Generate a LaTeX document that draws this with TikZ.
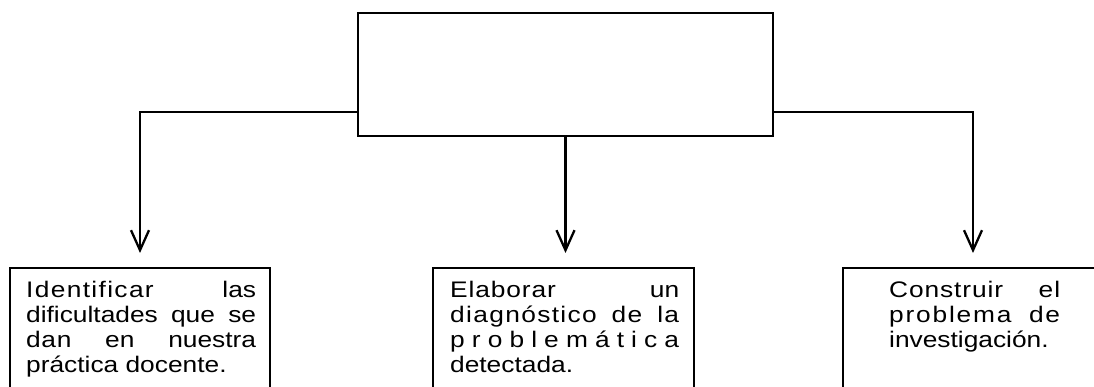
\documentclass[tikz,border=0pt]{standalone}
\usepackage{fontspec}
\setmainfont{Liberation Sans}[FakeStretch=1.17]
\usetikzlibrary{arrows.meta}
\newcommand{\linea}[1]{\makebox[\linewidth][s]{#1}}
\newcommand{\esp}[2]{{\addfontfeature{LetterSpace=#1}#2}}
\begin{document}
\begin{tikzpicture}[x=1pt,y=-1pt,line width=2.3pt,>={Straight Barb[length=20pt,width=18pt]},
  caja/.style={draw,line width=2pt,inner sep=0pt,minimum width=#1,minimum height=150pt,anchor=north},
  texto/.style={inner sep=0pt,anchor=base west,font=\fontsize{22.5}{25.2}\selectfont}]
  \useasboundingbox (0,0) rectangle (1094,387);
  \clip (0,0) rectangle (1094,387);
  \node[draw,inner sep=0pt,minimum width=415pt,minimum height=123pt] (meta) at (565.5,74.5) {};
  \node[caja=260pt] (c1) at (140,267) {};
  \node[caja=261pt] (c2) at (563.5,267) {};
  \node[caja=260pt] (c3) at (973,267) {};
  \node[texto] (t1) at (25,297) {\parbox[t]{230pt}{\linea{\esp{6}{Identificar} las}\\\linea{dificultades que se}\\\linea{\esp{3}{dan} en nuestra}\\práctica docente.}};
  \node[texto] (t2) at (449,297) {\parbox[t]{229pt}{\linea{\esp{4}{Elaborar} un}\\\linea{\esp{6}{diagnóstico de la}}\\\linea{p r o b l e m á t i c a}\\detectada.}};
  \node[texto] (t3) at (888,297) {\parbox[t]{171pt}{\linea{\esp{4}{Construir el}}\\\linea{\esp{8}{problema de}}\\investigación.}};
  \coordinate (izq) at ([yshift=25pt]meta.south west);
  \coordinate (der) at ([yshift=25pt]meta.south east);
  \draw[->,shorten >=14pt] (izq) -| (c1.north);
  \draw[->,shorten >=14pt] (der) -| (c3.north);
  \draw[->,shorten >=14pt] (meta.south) -- (meta.south |- c2.north);
\end{tikzpicture}
\end{document}
